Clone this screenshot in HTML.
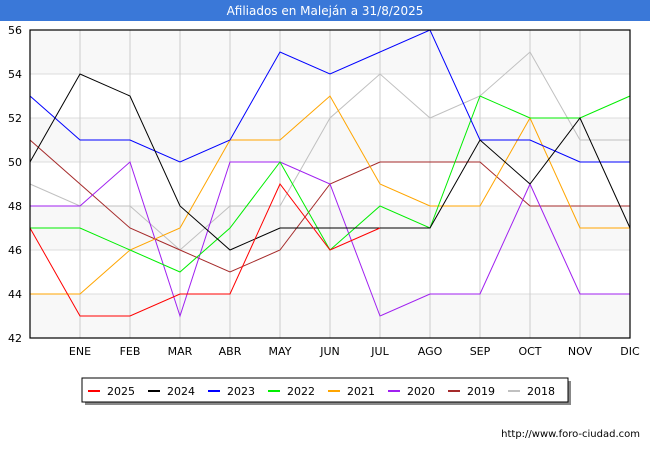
<!DOCTYPE html>
<html><head><meta charset="utf-8"><style>
body{margin:0;width:650px;height:450px;background:#fff;font-family:"DejaVu Sans","Liberation Sans",sans-serif;overflow:hidden}
</style></head><body>
<svg width="650" height="450" xmlns="http://www.w3.org/2000/svg">
<rect x="0" y="0" width="650" height="21" fill="#3a78d8"/>
<text x="325" y="15" text-anchor="middle" font-size="12" fill="#fff">Afiliados en Maleján a 31/8/2025</text>
<g id="grid"></g>
<g id="series"></g>
<rect x="30" y="30" width="600" height="308" fill="none" stroke="#000" stroke-width="1.2"/>
<g id="axes" font-size="11" fill="#000"></g>
<rect x="85" y="381" width="486" height="24" fill="#888"/>
<rect x="82" y="378" width="486" height="24" fill="#fff" stroke="#000"/>
<g id="legend" font-size="11"></g>
<text x="640" y="437" text-anchor="end" font-size="10" fill="#000">http://www.foro-ciudad.com</text>
</svg>
<script>
const months=["","ENE","FEB","MAR","ABR","MAY","JUN","JUL","AGO","SEP","OCT","NOV","DIC"];
const yTicks=[42,44,46,48,50,52,54,56];
const seriesNames=["2025","2024","2023","2022","2021","2020","2019","2018"];
const seriesColors=["#ff0000","#000000","#0000ff","#00ee00","#ffa500","#a020f0","#a52a2a","#c0c0c0"];
const s2025=[47,43,43,44,44,49,46,47];
const s2024=[50,54,53,48,46,47,47,47,47,51,49,52,47];
const s2023=[53,51,51,50,51,55,54,55,56,51,51,50,50];
const s2022=[47,47,46,45,47,50,46,48,47,53,52,52,53];
const s2021=[44,44,46,47,51,51,53,49,48,48,52,47,47];
const s2020=[48,48,50,43,50,50,49,43,44,44,49,44,44];
const s2019=[51,49,47,46,45,46,49,50,50,50,48,48,48];
const s2018=[49,48,48,46,48,48,52,54,52,53,55,51,51];
const allSeries=[s2025,s2024,s2023,s2022,s2021,s2020,s2019,s2018];
const NS="http://www.w3.org/2000/svg";
const x=i=>30+i*50, y=v=>338-(v-42)*22;
function mk(t,a,p){const e=document.createElementNS(NS,t);for(const k in a)e.setAttribute(k,a[k]);p.appendChild(e);return e;}
const grid=document.getElementById('grid'),axes=document.getElementById('axes');
for(let i=0;i<yTicks.length-1;i++){
  const r=mk('rect',{x:30,y:y(yTicks[i+1]),width:600,height:y(yTicks[i])-y(yTicks[i+1]),fill:i%2==0?'#f8f8f8':'#fff'},grid);
  
  
}
yTicks.forEach(v=>{
  const l=mk('line',{x1:30,x2:630,y1:y(v),y2:y(v),stroke:'#ddd'},grid);
  
  
  const t=mk('text',{x:22,y:y(v)+4,'text-anchor':'end'},axes);t.textContent=v;
  
  
});
months.forEach((m,i)=>{
  const l=mk('line',{x1:x(i),x2:x(i),y1:30,y2:338,stroke:'#ccc'},grid);
  
  
  if(m){const t=mk('text',{x:x(i),y:355,'text-anchor':'middle'},axes);t.textContent=m;
  
  }
});
const sg=document.getElementById('series');
for(let k=allSeries.length-1;k>=0;k--){
  const p=mk('polyline',{points:allSeries[k].map((v,i)=>x(i)+','+y(v)).join(' '),fill:'none',stroke:seriesColors[k],'stroke-width':1},sg);
  
  
}
const lg=document.getElementById('legend');
seriesNames.forEach((n,k)=>{
  const lx=88+k*60;
  const g=mk('g',{},lg);
  
  
  mk('line',{x1:lx,x2:lx+12,y1:391,y2:391,stroke:seriesColors[k],'stroke-width':2},g);
  const t=mk('text',{x:lx+19,y:395},g);t.textContent=n;
});
</script>
</body></html>
